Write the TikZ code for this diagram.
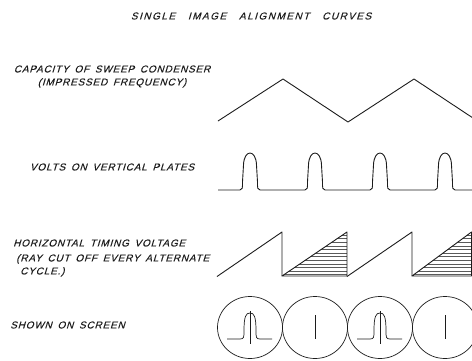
\documentclass[tikz,border=0pt]{standalone}
\usepackage{fontspec}
\usepackage{tikz}
\usetikzlibrary{calc}
\newfontfamily\letterfont[LetterSpace=8,WordSpace=1.6,FakeSlant=0.3,FakeBold=0.3]{Liberation Sans}
\newfontfamily\titlefont[LetterSpace=15,WordSpace=3,FakeSlant=0.3,FakeBold=0.3]{Liberation Sans}
\definecolor{ink}{HTML}{1C1C1C}
\definecolor{hatch}{HTML}{5A5A5A}

\begin{document}
\begin{tikzpicture}[x=1pt,y=-1pt,
  wave/.style={draw=ink, line width=0.9pt, line join=round},
  trace/.style={draw=ink, line width=0.7pt},
  lbl/.style={font=\letterfont\fontsize{10}{13}\selectfont, text=ink, inner sep=0pt}]
  \clip (0,0) rectangle (472,360);
  \node[lbl, font=\titlefont\fontsize{10}{13}\selectfont] (title) at (251,16) {SINGLE IMAGE ALIGNMENT CURVES};
  \node[lbl, align=center] (capacity) at (112,76.5) {CAPACITY OF SWEEP CONDENSER\\(IMPRESSED FREQUENCY)};
  \node[lbl] (volts) at (112,167) {VOLTS ON VERTICAL PLATES};
  \node[lbl, anchor=west] (timing) at (13,243) {HORIZONTAL TIMING VOLTAGE};
  \node[lbl, align=left, anchor=north west] (raycut) at (16,254) {(RAY CUT OFF EVERY ALTERNATE\\\hspace*{4pt}CYCLE.)};
  \node[lbl, anchor=west] (screen) at (10,325) {SHOWN ON SCREEN};

  \draw[wave] (218,121) -- (283,79) -- (348,122) -- (414,79) -- (476,120);

  \draw[wave] (218,190)
    \foreach \c in {250,315,380,445} {
      -- ({\c-10},190) .. controls ({\c-7.5},190) and ({\c-7.5},188) .. ({\c-7.5},182)
      -- ({\c-6.5},165) .. controls ({\c-6},149) and ({\c+6},149) .. ({\c+6.5},165)
      -- ({\c+7.5},182) .. controls ({\c+7.5},188) and ({\c+7.5},190) .. ({\c+10},190)
    } -- (472,190);

  \foreach \x/\w in {282/65,412/59.5} {
    \begin{scope}
      \clip (\x,276) -- ({\x+\w},232) -- ({\x+\w},276) -- cycle;
      \foreach \y in {235,238.6,...,276}
        \draw[hatch, line width=0.5pt] (\x,\y) -- ({\x+\w},\y);
    \end{scope}
    \draw[wave] ({\x-65},276.5) -- (\x,232) -- (\x,276);
    \draw[wave] (\x,276) -- ({\x+\w},232) -- ({\x+\w},276) -- cycle;
  }

  \foreach \c in {250,315,380,445}
    \draw[trace] (\c,327.5) ellipse (32.5 and 31);
  \foreach \c in {250,380} {
    \draw[trace] ({\c-23},339) -- ({\c-10},339) .. controls ({\c-6},339) and ({\c-6},337) .. ({\c-6},331)
      .. controls ({\c-6},316) and ({\c-4},313) .. (\c,313)
      .. controls ({\c+4},313) and ({\c+6},316) .. ({\c+6},331)
      .. controls ({\c+6},337) and ({\c+6},339) .. ({\c+10},339) -- ({\c+22},339);
    \draw[trace] (\c,311) -- (\c,344);
  }
  \foreach \c in {315,445}
    \draw[trace] (\c,315) -- (\c,339);
\end{tikzpicture}
\end{document}
